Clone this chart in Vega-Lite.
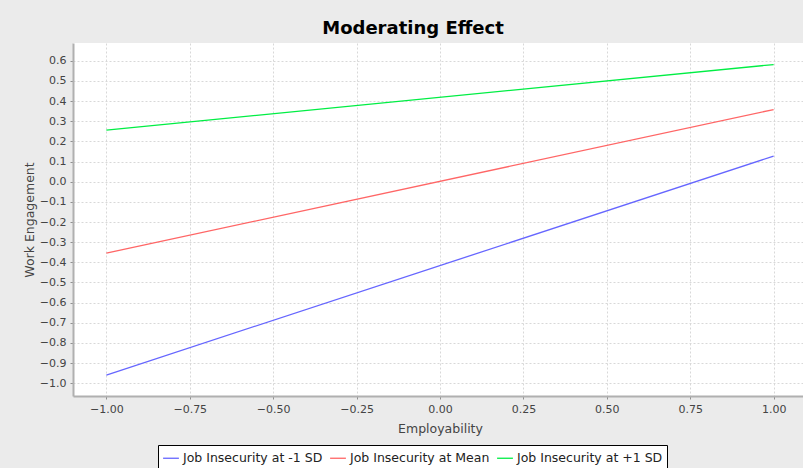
{
  "$schema": "https://vega.github.io/schema/vega-lite/v6.json",
  "autosize": "none",
  "width": 734,
  "height": 353,
  "padding": {"left": 73, "top": 43, "right": 0, "bottom": 72},
  "background": "#ebebeb",
  "title": {"text": "Moderating Effect", "anchor": "middle", "dx": -27, "offset": 5, "fontSize": 18, "font": "DejaVu Sans", "fontWeight": "bold", "color": "#000000"},
  "config": {
    "view": {"fill": "#ffffff", "stroke": null},
    "axis": {"labelFont": "DejaVu Sans", "titleFont": "DejaVu Sans", "labelFontSize": 11, "titleFontSize": 12.5, "labelColor": "#444444", "titleColor": "#444444", "titleFontWeight": "normal", "gridColor": "#d8d8d8", "gridDash": [2, 2], "domainColor": "#b0b0b0", "domainWidth": 2, "tickColor": "#909090", "tickSize": 3}
  },
  "data": {"values": [
    {"e": -1, "w": -0.959, "s": "Job Insecurity at -1 SD"},
    {"e": 1, "w": 0.127, "s": "Job Insecurity at -1 SD"},
    {"e": -1, "w": -0.354, "s": "Job Insecurity at Mean"},
    {"e": 1, "w": 0.358, "s": "Job Insecurity at Mean"},
    {"e": -1, "w": 0.256, "s": "Job Insecurity at +1 SD"},
    {"e": 1, "w": 0.581, "s": "Job Insecurity at +1 SD"}
  ]},
  "mark": {"type": "line", "strokeWidth": 1.3},
  "encoding": {
    "x": {"field": "e", "type": "quantitative", "scale": {"domain": [-1.1, 1.1], "nice": false, "zero": false}, "axis": {"title": "Employability", "values": [-1, -0.75, -0.5, -0.25, 0, 0.25, 0.5, 0.75, 1], "format": ".2f", "labelPadding": 4, "titlePadding": 8}},
    "y": {"field": "w", "type": "quantitative", "scale": {"domain": [-1.063, 0.688], "nice": false, "zero": false}, "axis": {"title": "Work Engagement", "values": [-1, -0.9, -0.8, -0.7, -0.6, -0.5, -0.4, -0.3, -0.2, -0.1, 0, 0.1, 0.2, 0.3, 0.4, 0.5, 0.6], "format": ".1f", "labelPadding": 4, "titlePadding": 3}},
    "color": {"field": "s", "type": "nominal", "sort": ["Job Insecurity at -1 SD", "Job Insecurity at Mean", "Job Insecurity at +1 SD"], "scale": {"domain": ["Job Insecurity at -1 SD", "Job Insecurity at Mean", "Job Insecurity at +1 SD"], "range": ["#6666ff", "#ff6666", "#00ee44"]}, "legend": {"title": null, "orient": "none", "legendX": 85, "legendY": 402, "direction": "horizontal", "symbolType": "stroke", "symbolSize": 250, "symbolStrokeWidth": 1.3, "labelFont": "DejaVu Sans", "labelFontSize": 12.5, "labelColor": "#222222", "strokeColor": "#000000", "fillColor": "#ffffff", "padding": 4, "columnPadding": 4, "labelOffset": 3}}
  }
}
